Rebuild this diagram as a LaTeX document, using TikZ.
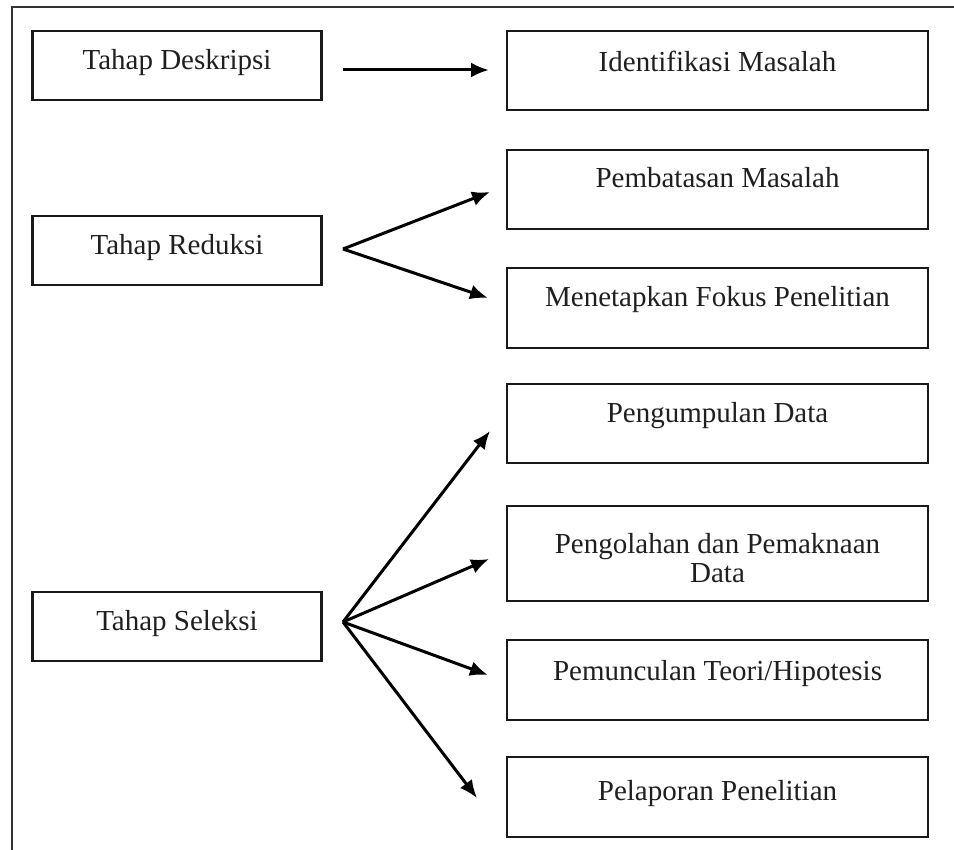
\documentclass[tikz,border=0pt]{standalone}
\usepackage{fontspec}
\setmainfont{Liberation Serif}
\usetikzlibrary{arrows.meta}
\begin{document}
\begin{tikzpicture}[x=1pt,y=-1pt,
  box/.style={draw=black!90, line width=2.4pt, inner sep=0pt, minimum width=#1},
  lbox/.style={box=289pt},
  rbox/.style={box=421pt},
  lbl/.style={anchor=base, inner sep=0pt, font=\fontsize{29}{29}\selectfont, text=black!88},
  arr/.style={line width=3pt, -{Latex[length=18pt,width=15pt]}}
]
\useasboundingbox (0,0) rectangle (954,850);
\fill[white] (0,0) rectangle (954,850);
% outer frame
\coordinate (fbl) at (12,850);
\coordinate (ftl) at (12,7);
\coordinate (ftr) at (954,7);
\draw[line width=2.2pt, black!80] (fbl) -- (ftl) -- (ftr);

% left boxes
\node[lbox, minimum height=69pt] (desk) at (177,65.5) {};
\node[lbox, minimum height=69pt] (red) at (177,250.5) {};
\node[lbox, minimum height=69pt] (sel) at (177,626.5) {};
\node[lbl] (tdesk) at (177,70) {Tahap Deskripsi};
\node[lbl] (tred) at (177,255) {Tahap Reduksi};
\node[lbl] (tsel) at (177,630) {Tahap Seleksi};

% right boxes
\node[rbox, minimum height=79pt] (ident) at (717.5,70.5) {};
\node[rbox, minimum height=79pt] (pemb) at (717.5,189.5) {};
\node[rbox, minimum height=80pt] (fokus) at (717.5,308) {};
\node[rbox, minimum height=79pt] (kump) at (717.5,423.5) {};
\node[rbox, minimum height=95pt] (olah) at (717.5,553.5) {};
\node[rbox, minimum height=80pt] (teori) at (717.5,680) {};
\node[rbox, minimum height=80pt] (lapor) at (717.5,797) {};
\node[lbl] (tident) at (717.5,72) {Identifikasi Masalah};
\node[lbl] (tpemb) at (717.5,188) {Pembatasan Masalah};
\node[lbl] (tfokus) at (717.5,307) {Menetapkan Fokus Penelitian};
\node[lbl] (tkump) at (717.5,423) {Pengumpulan Data};
\node[lbl] (tolah1) at (717.5,553) {Pengolahan dan Pemaknaan};
\node[lbl] (tolah2) at (717.5,582) {Data};
\node[lbl] (tteori) at (717.5,680) {Pemunculan Teori/Hipotesis};
\node[lbl] (tlapor) at (717.5,800) {Pelaporan Penelitian};

% connector points
\coordinate (sdesk) at (343,70);
\coordinate (edesk) at (489,70);
\coordinate (sred) at (343,249);
\coordinate (epemb) at (490,192);
\coordinate (efokus) at (488,298);
\coordinate (ssel) at (343,622);
\coordinate (ekump) at (490,431);
\coordinate (eolah) at (489,559);
\coordinate (eteori) at (488,675);
\coordinate (elapor) at (477,798);

\draw[arr] (sdesk) -- (edesk);
\draw[arr] (sred) -- (epemb);
\draw[arr] (sred) -- (efokus);
\draw[arr] (ssel) -- (ekump);
\draw[arr] (ssel) -- (eolah);
\draw[arr] (ssel) -- (eteori);
\draw[arr] (ssel) -- (elapor);
\end{tikzpicture}
\end{document}
